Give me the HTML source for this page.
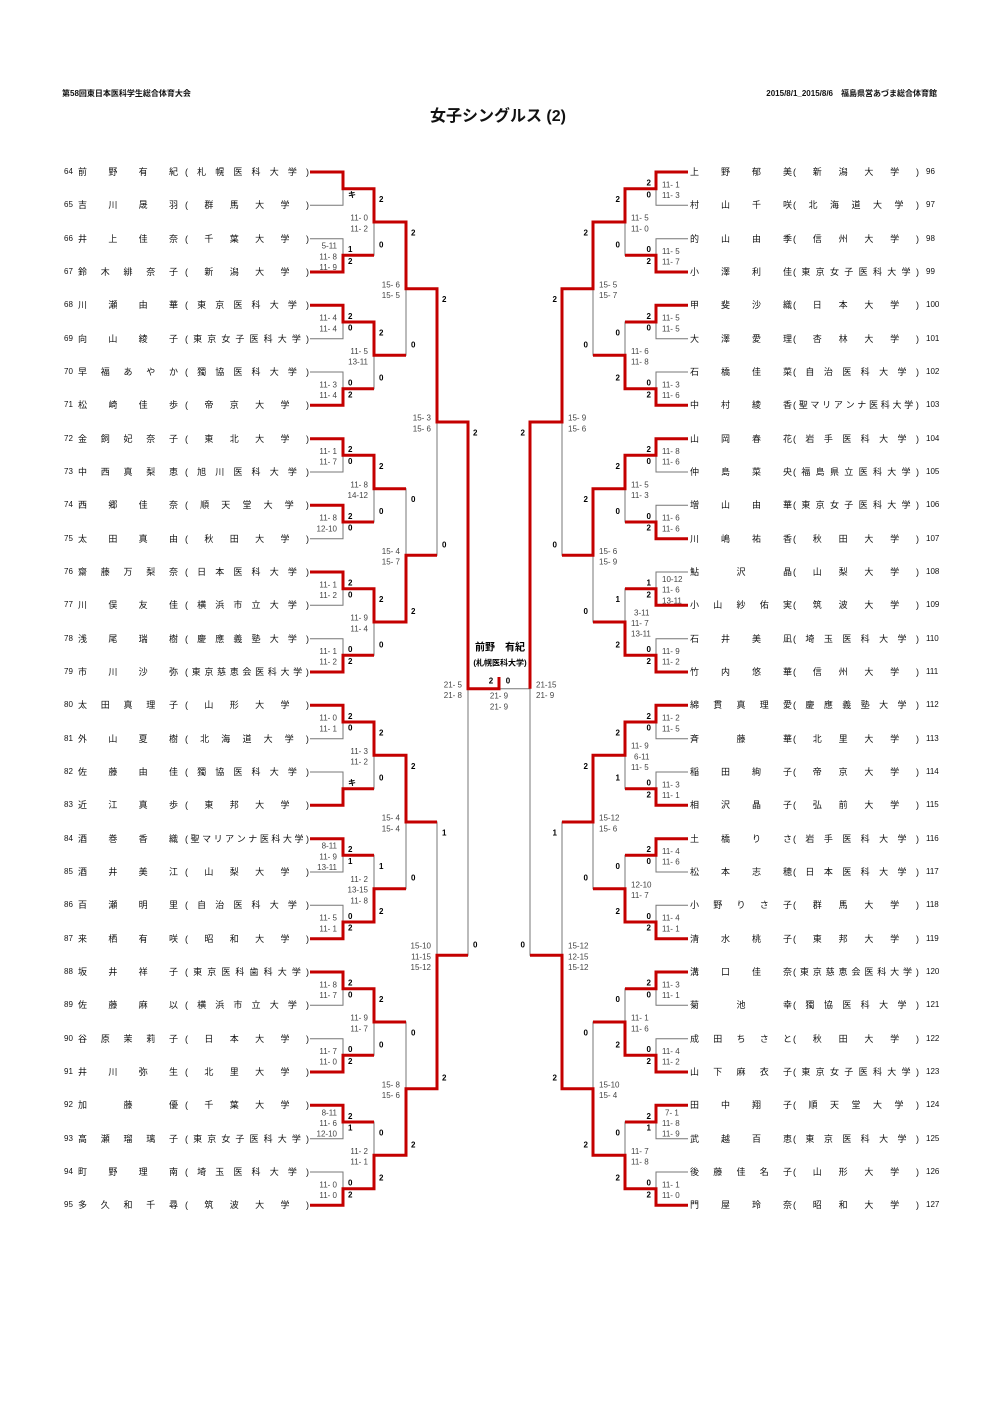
<!DOCTYPE html>
<html><head><meta charset="utf-8">
<style>
html,body{margin:0;padding:0;background:#fff;}
body{width:1000px;height:1415px;position:relative;overflow:hidden;font-family:"Liberation Sans","Noto Sans CJK JP",sans-serif;color:#111;}
svg{position:absolute;left:0;top:0;}
.h{position:absolute;font-size:8px;font-weight:bold;top:88px;white-space:nowrap;}
.t{position:absolute;top:102px;left:0;width:996px;text-align:center;font-size:16px;font-weight:bold;}
.r{position:absolute;left:0;width:1000px;height:12px;font-size:9px;line-height:12px;}
.r b{position:absolute;font-weight:normal;font-size:8px;}
.r p{position:absolute;margin:0;display:flex;justify-content:space-between;top:0;height:12px;}
.r i{font-style:normal;}
.L b{left:64px;}
.L p:nth-of-type(1){left:78px;width:100px;}
.L p:nth-of-type(2){left:185px;width:124px;}
.R p:nth-of-type(1){left:690px;width:102px;}
.R p:nth-of-type(2){left:793px;width:126px;}
.R b{left:926px;}
text{font-family:"Liberation Sans","Noto Sans CJK JP",sans-serif;font-size:8px;dominant-baseline:central;}
.s text{font-weight:bold;fill:#000;}
.d text{fill:#444;}
</style></head><body>
<div class="h" style="left:62px">第58回東日本医科学生総合体育大会</div>
<div class="h" style="right:63px">2015/8/1_2015/8/6　福島県営あづま総合体育館</div>
<div class="t">女子シングルス (2)</div>

<svg width="1000" height="1415" viewBox="0 0 1000 1415">
<g fill="none" stroke="#777" stroke-width="1">
<path d="M310,172H343V205.3H310M310,238.7H343V272H310M310,305.3H343V338.7H310M310,372H343V405.3H310M310,438.7H343V472H310M310,505.3H343V538.7H310M310,572H343V605.3H310M310,638.7H343V672H310M310,705.3H343V738.7H310M310,772H343V805.3H310M310,838.7H343V872H310M310,905.3H343V938.7H310M310,972H343V1005.3H310M310,1038.7H343V1072H310M310,1105.3H343V1138.7H310M310,1172H343V1205.3H310
M343,188.7H374V255.3H343M343,322H374V388.7H343M343,455.3H374V522H343M343,588.7H374V655.3H343M343,722H374V788.7H343M343,855.3H374V922H343M343,988.7H374V1055.3H343M343,1122H374V1188.7H343
M374,222H406V355.3H374M374,488.7H406V622H374M374,755.3H406V888.7H374M374,1022H406V1155.3H374
M406,288.7H437V555.3H406M406,822H437V1088.7H406M437,422H468V955.3H437M468,688.7H530"/>
<path d="M688,172H656V205.3H688M688,238.7H656V272H688M688,305.3H656V338.7H688M688,372H656V405.3H688M688,438.7H656V472H688M688,505.3H656V538.7H688M688,572H656V605.3H688M688,638.7H656V672H688M688,705.3H656V738.7H688M688,772H656V805.3H688M688,838.7H656V872H688M688,905.3H656V938.7H688M688,972H656V1005.3H688M688,1038.7H656V1072H688M688,1105.3H656V1138.7H688M688,1172H656V1205.3H688
M656,188.7H625V255.3H656M656,322H625V388.7H656M656,455.3H625V522H656M656,588.7H625V655.3H656M656,722H625V788.7H656M656,855.3H625V922H656M656,988.7H625V1055.3H656M656,1122H625V1188.7H656
M625,222H593V355.3H625M625,488.7H593V622H625M625,755.3H593V888.7H625M625,1022H593V1155.3H625
M593,288.7H562V555.3H593M593,822H562V1088.7H593M562,422H530V955.3H562"/>
</g>
<g fill="none" stroke="#c40000" stroke-width="3" stroke-linejoin="miter" stroke-linecap="butt">
<polyline points="310,172 343,172 343,188.7 374,188.7 374,222 406,222 406,288.7 437,288.7 437,422 468,422 468,688.7 499,688.7 499,677"/>
<polyline points="310,272 343,272 343,255.3 374,255.3"/>
<polyline points="310,305.3 343,305.3 343,322 374,322 374,355.3 406,355.3"/>
<polyline points="310,405.3 343,405.3 343,388.7 374,388.7"/>
<polyline points="310,438.7 343,438.7 343,455.3 374,455.3 374,488.7 406,488.7"/>
<polyline points="310,505.3 343,505.3 343,522 374,522"/>
<polyline points="310,572 343,572 343,588.7 374,588.7 374,622 406,622 406,555.3 437,555.3"/>
<polyline points="310,672 343,672 343,655.3 374,655.3"/>
<polyline points="310,705.3 343,705.3 343,722 374,722 374,755.3 406,755.3 406,822 437,822"/>
<polyline points="310,805.3 343,805.3 343,788.7 374,788.7"/>
<polyline points="310,838.7 343,838.7 343,855.3 374,855.3"/>
<polyline points="310,938.7 343,938.7 343,922 374,922 374,888.7 406,888.7"/>
<polyline points="310,972 343,972 343,988.7 374,988.7 374,1022 406,1022"/>
<polyline points="310,1072 343,1072 343,1055.3 374,1055.3"/>
<polyline points="310,1105.3 343,1105.3 343,1122 374,1122"/>
<polyline points="310,1205.3 343,1205.3 343,1188.7 374,1188.7 374,1155.3 406,1155.3 406,1088.7 437,1088.7 437,955.3 468,955.3"/>

<polyline points="688,172 656,172 656,188.7 625,188.7 625,222 593,222 593,288.7 562,288.7 562,422 530,422 530,688.7"/>
<polyline points="688,272 656,272 656,255.3 625,255.3"/>
<polyline points="688,305.3 656,305.3 656,322 625,322"/>
<polyline points="688,405.3 656,405.3 656,388.7 625,388.7 625,355.3 593,355.3"/>
<polyline points="688,438.7 656,438.7 656,455.3 625,455.3 625,488.7 593,488.7 593,555.3 562,555.3"/>
<polyline points="688,538.7 656,538.7 656,522 625,522"/>
<polyline points="688,605.3 656,605.3 656,588.7 625,588.7"/>
<polyline points="688,672 656,672 656,655.3 625,655.3 625,622 593,622"/>
<polyline points="688,705.3 656,705.3 656,722 625,722 625,755.3 593,755.3 593,822 562,822"/>
<polyline points="688,805.3 656,805.3 656,788.7 625,788.7"/>
<polyline points="688,838.7 656,838.7 656,855.3 625,855.3"/>
<polyline points="688,938.7 656,938.7 656,922 625,922 625,888.7 593,888.7"/>
<polyline points="688,972 656,972 656,988.7 625,988.7"/>
<polyline points="688,1072 656,1072 656,1055.3 625,1055.3 625,1022 593,1022"/>
<polyline points="688,1105.3 656,1105.3 656,1122 625,1122"/>
<polyline points="688,1205.3 656,1205.3 656,1188.7 625,1188.7 625,1155.3 593,1155.3 593,1088.7 562,1088.7 562,955.3 530,955.3"/>
</g>

<!-- LEFT scores -->
<g class="s">
<text x="348" y="194.8">キ</text>
<text x="348" y="249.7">1</text><text x="348" y="261.5">2</text>
<text x="348" y="316.3">2</text><text x="348" y="328.2">0</text>
<text x="348" y="383">0</text><text x="348" y="394.8">2</text>
<text x="348" y="449.7">2</text><text x="348" y="461.5">0</text>
<text x="348" y="516.3">2</text><text x="348" y="528.2">0</text>
<text x="348" y="583">2</text><text x="348" y="594.8">0</text>
<text x="348" y="649.7">0</text><text x="348" y="661.5">2</text>
<text x="348" y="716.3">2</text><text x="348" y="728.2">0</text>
<text x="348" y="783">キ</text>
<text x="348" y="849.7">2</text><text x="348" y="861.5">1</text>
<text x="348" y="916.3">0</text><text x="348" y="928.2">2</text>
<text x="348" y="983">2</text><text x="348" y="994.8">0</text>
<text x="348" y="1049.7">0</text><text x="348" y="1061.5">2</text>
<text x="348" y="1116.3">2</text><text x="348" y="1128.2">1</text>
<text x="348" y="1183">0</text><text x="348" y="1194.8">2</text>

<text x="379" y="199.7">2</text><text x="379" y="244.8">0</text>
<text x="379" y="333">2</text><text x="379" y="378.2">0</text>
<text x="379" y="466.3">2</text><text x="379" y="511.5">0</text>
<text x="379" y="599.7">2</text><text x="379" y="644.8">0</text>
<text x="379" y="733">2</text><text x="379" y="778.2">0</text>
<text x="379" y="866.3">1</text><text x="379" y="911.5">2</text>
<text x="379" y="999.7">2</text><text x="379" y="1044.8">0</text>
<text x="379" y="1133">0</text><text x="379" y="1178.2">2</text>

<text x="411" y="233">2</text><text x="411" y="344.8">0</text>
<text x="411" y="499.7">0</text><text x="411" y="611.5">2</text>
<text x="411" y="766.3">2</text><text x="411" y="878.2">0</text>
<text x="411" y="1033">0</text><text x="411" y="1144.8">2</text>

<text x="442" y="299.7">2</text><text x="442" y="544.8">0</text>
<text x="442" y="833">1</text><text x="442" y="1078.2">2</text>

<text x="473" y="433">2</text><text x="473" y="944.8">0</text>

<text x="491" y="681" text-anchor="middle">2</text><text x="508" y="681" text-anchor="middle">0</text>

<!-- RIGHT scores -->
<g text-anchor="end">
<text x="651" y="183">2</text><text x="651" y="194.8">0</text>
<text x="651" y="249.7">0</text><text x="651" y="261.5">2</text>
<text x="651" y="316.3">2</text><text x="651" y="328.2">0</text>
<text x="651" y="383">0</text><text x="651" y="394.8">2</text>
<text x="651" y="449.7">2</text><text x="651" y="461.5">0</text>
<text x="651" y="516.3">0</text><text x="651" y="528.2">2</text>
<text x="651" y="583">1</text><text x="651" y="594.8">2</text>
<text x="651" y="649.7">0</text><text x="651" y="661.5">2</text>
<text x="651" y="716.3">2</text><text x="651" y="728.2">0</text>
<text x="651" y="783">0</text><text x="651" y="794.8">2</text>
<text x="651" y="849.7">2</text><text x="651" y="861.5">0</text>
<text x="651" y="916.3">0</text><text x="651" y="928.2">2</text>
<text x="651" y="983">2</text><text x="651" y="994.8">0</text>
<text x="651" y="1049.7">0</text><text x="651" y="1061.5">2</text>
<text x="651" y="1116.3">2</text><text x="651" y="1128.2">1</text>
<text x="651" y="1183">0</text><text x="651" y="1194.8">2</text>

<text x="620" y="199.7">2</text><text x="620" y="244.8">0</text>
<text x="620" y="333">0</text><text x="620" y="378.2">2</text>
<text x="620" y="466.3">2</text><text x="620" y="511.5">0</text>
<text x="620" y="599.7">1</text><text x="620" y="644.8">2</text>
<text x="620" y="733">2</text><text x="620" y="778.2">1</text>
<text x="620" y="866.3">0</text><text x="620" y="911.5">2</text>
<text x="620" y="999.7">0</text><text x="620" y="1044.8">2</text>
<text x="620" y="1133">0</text><text x="620" y="1178.2">2</text>

<text x="588" y="233">2</text><text x="588" y="344.8">0</text>
<text x="588" y="499.7">2</text><text x="588" y="611.5">0</text>
<text x="588" y="766.3">2</text><text x="588" y="878.2">0</text>
<text x="588" y="1033">0</text><text x="588" y="1144.8">2</text>

<text x="557" y="299.7">2</text><text x="557" y="544.8">0</text>
<text x="557" y="833">1</text><text x="557" y="1078.2">2</text>

<text x="525" y="433">2</text><text x="525" y="944.8">0</text>
</g>
</g>

<!-- details -->
<g class="d" text-anchor="end">
<text x="337" y="246.1">5-11</text><text x="337" y="256.8">11- 8</text><text x="337" y="267.5">11- 9</text>
<text x="337" y="318.2">11- 4</text><text x="337" y="328.8">11- 4</text>
<text x="337" y="384.8">11- 3</text><text x="337" y="395.5">11- 4</text>
<text x="337" y="451.5">11- 1</text><text x="337" y="462.2">11- 7</text>
<text x="337" y="518.2">11- 8</text><text x="337" y="528.8">12-10</text>
<text x="337" y="584.8">11- 1</text><text x="337" y="595.5">11- 2</text>
<text x="337" y="651.5">11- 1</text><text x="337" y="662.2">11- 2</text>
<text x="337" y="718.2">11- 0</text><text x="337" y="728.8">11- 1</text>
<text x="337" y="846.1">8-11</text><text x="337" y="856.8">11- 9</text><text x="337" y="867.5">13-11</text>
<text x="337" y="918.2">11- 5</text><text x="337" y="928.8">11- 1</text>
<text x="337" y="984.8">11- 8</text><text x="337" y="995.5">11- 7</text>
<text x="337" y="1051.5">11- 7</text><text x="337" y="1062.2">11- 0</text>
<text x="337" y="1112.8">8-11</text><text x="337" y="1123.5">11- 6</text><text x="337" y="1134.2">12-10</text>
<text x="337" y="1184.8">11- 0</text><text x="337" y="1195.5">11- 0</text>

<text x="368" y="218.2">11- 0</text><text x="368" y="228.8">11- 2</text>
<text x="368" y="351.5">11- 5</text><text x="368" y="362.2">13-11</text>
<text x="368" y="484.8">11- 8</text><text x="368" y="495.5">14-12</text>
<text x="368" y="618.2">11- 9</text><text x="368" y="628.8">11- 4</text>
<text x="368" y="751.5">11- 3</text><text x="368" y="762.2">11- 2</text>
<text x="368" y="879.5">11- 2</text><text x="368" y="890.2">13-15</text><text x="368" y="900.9">11- 8</text>
<text x="368" y="1018.2">11- 9</text><text x="368" y="1028.8">11- 7</text>
<text x="368" y="1151.5">11- 2</text><text x="368" y="1162.2">11- 1</text>

<text x="400" y="284.8">15- 6</text><text x="400" y="295.5">15- 5</text>
<text x="400" y="551.5">15- 4</text><text x="400" y="562.2">15- 7</text>
<text x="400" y="818.2">15- 4</text><text x="400" y="828.8">15- 4</text>
<text x="400" y="1084.8">15- 8</text><text x="400" y="1095.5">15- 6</text>

<text x="431" y="418.2">15- 3</text><text x="431" y="428.8">15- 6</text>
<text x="431" y="946.1">15-10</text><text x="431" y="956.8">11-15</text><text x="431" y="967.5">15-12</text>

<text x="462" y="684.9">21- 5</text><text x="462" y="695.5">21- 8</text>
</g>
<g class="d" text-anchor="middle">
<text x="499" y="696">21- 9</text><text x="499" y="707">21- 9</text>
</g>
<g class="d">
<text x="662" y="184.8">11- 1</text><text x="662" y="195.5">11- 3</text>
<text x="662" y="251.5">11- 5</text><text x="662" y="262.2">11- 7</text>
<text x="662" y="318.2">11- 5</text><text x="662" y="328.8">11- 5</text>
<text x="662" y="384.8">11- 3</text><text x="662" y="395.5">11- 6</text>
<text x="662" y="451.5">11- 8</text><text x="662" y="462.2">11- 6</text>
<text x="662" y="518.2">11- 6</text><text x="662" y="528.8">11- 6</text>
<text x="662" y="579.5">10-12</text><text x="662" y="590.2">11- 6</text><text x="662" y="600.9">13-11</text>
<text x="662" y="651.5">11- 9</text><text x="662" y="662.2">11- 2</text>
<text x="662" y="718.2">11- 2</text><text x="662" y="728.8">11- 5</text>
<text x="662" y="784.8">11- 3</text><text x="662" y="795.5">11- 1</text>
<text x="662" y="851.5">11- 4</text><text x="662" y="862.2">11- 6</text>
<text x="662" y="918.2">11- 4</text><text x="662" y="928.8">11- 1</text>
<text x="662" y="984.8">11- 3</text><text x="662" y="995.5">11- 1</text>
<text x="662" y="1051.5">11- 4</text><text x="662" y="1062.2">11- 2</text>
<text x="665" y="1112.8">7- 1</text><text x="662" y="1123.5">11- 8</text><text x="662" y="1134.2">11- 9</text>
<text x="662" y="1184.8">11- 1</text><text x="662" y="1195.5">11- 0</text>

<text x="631" y="218.2">11- 5</text><text x="631" y="228.8">11- 0</text>
<text x="631" y="351.5">11- 6</text><text x="631" y="362.2">11- 8</text>
<text x="631" y="484.8">11- 5</text><text x="631" y="495.5">11- 3</text>
<text x="634" y="612.8">3-11</text><text x="631" y="623.5">11- 7</text><text x="631" y="634.2">13-11</text>
<text x="631" y="746.1">11- 9</text><text x="634" y="756.8">6-11</text><text x="631" y="767.5">11- 5</text>
<text x="631" y="884.8">12-10</text><text x="631" y="895.5">11- 7</text>
<text x="631" y="1018.2">11- 1</text><text x="631" y="1028.8">11- 6</text>
<text x="631" y="1151.5">11- 7</text><text x="631" y="1162.2">11- 8</text>

<text x="599" y="284.8">15- 5</text><text x="599" y="295.5">15- 7</text>
<text x="599" y="551.5">15- 6</text><text x="599" y="562.2">15- 9</text>
<text x="599" y="818.2">15-12</text><text x="599" y="828.8">15- 6</text>
<text x="599" y="1084.8">15-10</text><text x="599" y="1095.5">15- 4</text>

<text x="568" y="418.2">15- 9</text><text x="568" y="428.8">15- 6</text>
<text x="568" y="946.1">15-12</text><text x="568" y="956.8">12-15</text><text x="568" y="967.5">15-12</text>

<text x="536" y="684.9">21-15</text><text x="536" y="695.5">21- 9</text>
</g>
<text x="500" y="648" text-anchor="middle" style="font-size:10px;font-weight:bold">前野　有紀</text>
<text x="500" y="663" text-anchor="middle" style="font-size:8px;font-weight:bold">(札幌医科大学)</text>
</svg>

<!-- LEFT rows -->
<div class="r L" style="top:166px"><b>64</b><p><i>前</i><i>野</i><i>有</i><i>紀</i></p><p><i>(</i><i>札</i><i>幌</i><i>医</i><i>科</i><i>大</i><i>学</i><i>)</i></p></div>
<div class="r L" style="top:199.3px"><b>65</b><p><i>吉</i><i>川</i><i>晟</i><i>羽</i></p><p><i>(</i><i>群</i><i>馬</i><i>大</i><i>学</i><i>)</i></p></div>
<div class="r L" style="top:232.7px"><b>66</b><p><i>井</i><i>上</i><i>佳</i><i>奈</i></p><p><i>(</i><i>千</i><i>葉</i><i>大</i><i>学</i><i>)</i></p></div>
<div class="r L" style="top:266px"><b>67</b><p><i>鈴</i><i>木</i><i>緋</i><i>奈</i><i>子</i></p><p><i>(</i><i>新</i><i>潟</i><i>大</i><i>学</i><i>)</i></p></div>
<div class="r L" style="top:299.3px"><b>68</b><p><i>川</i><i>瀬</i><i>由</i><i>華</i></p><p><i>(</i><i>東</i><i>京</i><i>医</i><i>科</i><i>大</i><i>学</i><i>)</i></p></div>
<div class="r L" style="top:332.7px"><b>69</b><p><i>向</i><i>山</i><i>綾</i><i>子</i></p><p><i>(</i><i>東</i><i>京</i><i>女</i><i>子</i><i>医</i><i>科</i><i>大</i><i>学</i><i>)</i></p></div>
<div class="r L" style="top:366px"><b>70</b><p><i>早</i><i>福</i><i>あ</i><i>や</i><i>か</i></p><p><i>(</i><i>獨</i><i>協</i><i>医</i><i>科</i><i>大</i><i>学</i><i>)</i></p></div>
<div class="r L" style="top:399.3px"><b>71</b><p><i>松</i><i>崎</i><i>佳</i><i>歩</i></p><p><i>(</i><i>帝</i><i>京</i><i>大</i><i>学</i><i>)</i></p></div>
<div class="r L" style="top:432.7px"><b>72</b><p><i>金</i><i>飼</i><i>妃</i><i>奈</i><i>子</i></p><p><i>(</i><i>東</i><i>北</i><i>大</i><i>学</i><i>)</i></p></div>
<div class="r L" style="top:466px"><b>73</b><p><i>中</i><i>西</i><i>真</i><i>梨</i><i>恵</i></p><p><i>(</i><i>旭</i><i>川</i><i>医</i><i>科</i><i>大</i><i>学</i><i>)</i></p></div>
<div class="r L" style="top:499.3px"><b>74</b><p><i>西</i><i>郷</i><i>佳</i><i>奈</i></p><p><i>(</i><i>順</i><i>天</i><i>堂</i><i>大</i><i>学</i><i>)</i></p></div>
<div class="r L" style="top:532.7px"><b>75</b><p><i>太</i><i>田</i><i>真</i><i>由</i></p><p><i>(</i><i>秋</i><i>田</i><i>大</i><i>学</i><i>)</i></p></div>
<div class="r L" style="top:566px"><b>76</b><p><i>齋</i><i>藤</i><i>万</i><i>梨</i><i>奈</i></p><p><i>(</i><i>日</i><i>本</i><i>医</i><i>科</i><i>大</i><i>学</i><i>)</i></p></div>
<div class="r L" style="top:599.3px"><b>77</b><p><i>川</i><i>俣</i><i>友</i><i>佳</i></p><p><i>(</i><i>横</i><i>浜</i><i>市</i><i>立</i><i>大</i><i>学</i><i>)</i></p></div>
<div class="r L" style="top:632.7px"><b>78</b><p><i>浅</i><i>尾</i><i>瑞</i><i>樹</i></p><p><i>(</i><i>慶</i><i>應</i><i>義</i><i>塾</i><i>大</i><i>学</i><i>)</i></p></div>
<div class="r L" style="top:666px"><b>79</b><p><i>市</i><i>川</i><i>沙</i><i>弥</i></p><p><i>(</i><i>東</i><i>京</i><i>慈</i><i>恵</i><i>会</i><i>医</i><i>科</i><i>大</i><i>学</i><i>)</i></p></div>
<div class="r L" style="top:699.3px"><b>80</b><p><i>太</i><i>田</i><i>真</i><i>理</i><i>子</i></p><p><i>(</i><i>山</i><i>形</i><i>大</i><i>学</i><i>)</i></p></div>
<div class="r L" style="top:732.7px"><b>81</b><p><i>外</i><i>山</i><i>夏</i><i>樹</i></p><p><i>(</i><i>北</i><i>海</i><i>道</i><i>大</i><i>学</i><i>)</i></p></div>
<div class="r L" style="top:766px"><b>82</b><p><i>佐</i><i>藤</i><i>由</i><i>佳</i></p><p><i>(</i><i>獨</i><i>協</i><i>医</i><i>科</i><i>大</i><i>学</i><i>)</i></p></div>
<div class="r L" style="top:799.3px"><b>83</b><p><i>近</i><i>江</i><i>真</i><i>歩</i></p><p><i>(</i><i>東</i><i>邦</i><i>大</i><i>学</i><i>)</i></p></div>
<div class="r L" style="top:832.7px"><b>84</b><p><i>酒</i><i>巻</i><i>香</i><i>織</i></p><p><i>(</i><i>聖</i><i>マ</i><i>リ</i><i>ア</i><i>ン</i><i>ナ</i><i>医</i><i>科</i><i>大</i><i>学</i><i>)</i></p></div>
<div class="r L" style="top:866px"><b>85</b><p><i>酒</i><i>井</i><i>美</i><i>江</i></p><p><i>(</i><i>山</i><i>梨</i><i>大</i><i>学</i><i>)</i></p></div>
<div class="r L" style="top:899.3px"><b>86</b><p><i>百</i><i>瀬</i><i>明</i><i>里</i></p><p><i>(</i><i>自</i><i>治</i><i>医</i><i>科</i><i>大</i><i>学</i><i>)</i></p></div>
<div class="r L" style="top:932.7px"><b>87</b><p><i>来</i><i>栖</i><i>有</i><i>咲</i></p><p><i>(</i><i>昭</i><i>和</i><i>大</i><i>学</i><i>)</i></p></div>
<div class="r L" style="top:966px"><b>88</b><p><i>坂</i><i>井</i><i>祥</i><i>子</i></p><p><i>(</i><i>東</i><i>京</i><i>医</i><i>科</i><i>歯</i><i>科</i><i>大</i><i>学</i><i>)</i></p></div>
<div class="r L" style="top:999.3px"><b>89</b><p><i>佐</i><i>藤</i><i>麻</i><i>以</i></p><p><i>(</i><i>横</i><i>浜</i><i>市</i><i>立</i><i>大</i><i>学</i><i>)</i></p></div>
<div class="r L" style="top:1032.7px"><b>90</b><p><i>谷</i><i>原</i><i>茉</i><i>莉</i><i>子</i></p><p><i>(</i><i>日</i><i>本</i><i>大</i><i>学</i><i>)</i></p></div>
<div class="r L" style="top:1066px"><b>91</b><p><i>井</i><i>川</i><i>弥</i><i>生</i></p><p><i>(</i><i>北</i><i>里</i><i>大</i><i>学</i><i>)</i></p></div>
<div class="r L" style="top:1099.3px"><b>92</b><p><i>加</i><i>藤</i><i>優</i></p><p><i>(</i><i>千</i><i>葉</i><i>大</i><i>学</i><i>)</i></p></div>
<div class="r L" style="top:1132.7px"><b>93</b><p><i>高</i><i>瀬</i><i>瑠</i><i>璃</i><i>子</i></p><p><i>(</i><i>東</i><i>京</i><i>女</i><i>子</i><i>医</i><i>科</i><i>大</i><i>学</i><i>)</i></p></div>
<div class="r L" style="top:1166px"><b>94</b><p><i>町</i><i>野</i><i>理</i><i>南</i></p><p><i>(</i><i>埼</i><i>玉</i><i>医</i><i>科</i><i>大</i><i>学</i><i>)</i></p></div>
<div class="r L" style="top:1199.3px"><b>95</b><p><i>多</i><i>久</i><i>和</i><i>千</i><i>尋</i></p><p><i>(</i><i>筑</i><i>波</i><i>大</i><i>学</i><i>)</i></p></div>

<!-- RIGHT rows -->
<div class="r R" style="top:166px"><p><i>上</i><i>野</i><i>郁</i><i>美</i></p><p><i>(</i><i>新</i><i>潟</i><i>大</i><i>学</i><i>)</i></p><b>96</b></div>
<div class="r R" style="top:199.3px"><p><i>村</i><i>山</i><i>千</i><i>咲</i></p><p><i>(</i><i>北</i><i>海</i><i>道</i><i>大</i><i>学</i><i>)</i></p><b>97</b></div>
<div class="r R" style="top:232.7px"><p><i>的</i><i>山</i><i>由</i><i>季</i></p><p><i>(</i><i>信</i><i>州</i><i>大</i><i>学</i><i>)</i></p><b>98</b></div>
<div class="r R" style="top:266px"><p><i>小</i><i>澤</i><i>利</i><i>佳</i></p><p><i>(</i><i>東</i><i>京</i><i>女</i><i>子</i><i>医</i><i>科</i><i>大</i><i>学</i><i>)</i></p><b>99</b></div>
<div class="r R" style="top:299.3px"><p><i>甲</i><i>斐</i><i>沙</i><i>織</i></p><p><i>(</i><i>日</i><i>本</i><i>大</i><i>学</i><i>)</i></p><b>100</b></div>
<div class="r R" style="top:332.7px"><p><i>大</i><i>澤</i><i>愛</i><i>理</i></p><p><i>(</i><i>杏</i><i>林</i><i>大</i><i>学</i><i>)</i></p><b>101</b></div>
<div class="r R" style="top:366px"><p><i>石</i><i>橋</i><i>佳</i><i>菜</i></p><p><i>(</i><i>自</i><i>治</i><i>医</i><i>科</i><i>大</i><i>学</i><i>)</i></p><b>102</b></div>
<div class="r R" style="top:399.3px"><p><i>中</i><i>村</i><i>綾</i><i>香</i></p><p><i>(</i><i>聖</i><i>マ</i><i>リ</i><i>ア</i><i>ン</i><i>ナ</i><i>医</i><i>科</i><i>大</i><i>学</i><i>)</i></p><b>103</b></div>
<div class="r R" style="top:432.7px"><p><i>山</i><i>岡</i><i>春</i><i>花</i></p><p><i>(</i><i>岩</i><i>手</i><i>医</i><i>科</i><i>大</i><i>学</i><i>)</i></p><b>104</b></div>
<div class="r R" style="top:466px"><p><i>仲</i><i>島</i><i>菜</i><i>央</i></p><p><i>(</i><i>福</i><i>島</i><i>県</i><i>立</i><i>医</i><i>科</i><i>大</i><i>学</i><i>)</i></p><b>105</b></div>
<div class="r R" style="top:499.3px"><p><i>増</i><i>山</i><i>由</i><i>華</i></p><p><i>(</i><i>東</i><i>京</i><i>女</i><i>子</i><i>医</i><i>科</i><i>大</i><i>学</i><i>)</i></p><b>106</b></div>
<div class="r R" style="top:532.7px"><p><i>川</i><i>嶋</i><i>祐</i><i>香</i></p><p><i>(</i><i>秋</i><i>田</i><i>大</i><i>学</i><i>)</i></p><b>107</b></div>
<div class="r R" style="top:566px"><p><i>鮎</i><i>沢</i><i>晶</i></p><p><i>(</i><i>山</i><i>梨</i><i>大</i><i>学</i><i>)</i></p><b>108</b></div>
<div class="r R" style="top:599.3px"><p><i>小</i><i>山</i><i>紗</i><i>佑</i><i>実</i></p><p><i>(</i><i>筑</i><i>波</i><i>大</i><i>学</i><i>)</i></p><b>109</b></div>
<div class="r R" style="top:632.7px"><p><i>石</i><i>井</i><i>美</i><i>凪</i></p><p><i>(</i><i>埼</i><i>玉</i><i>医</i><i>科</i><i>大</i><i>学</i><i>)</i></p><b>110</b></div>
<div class="r R" style="top:666px"><p><i>竹</i><i>内</i><i>悠</i><i>華</i></p><p><i>(</i><i>信</i><i>州</i><i>大</i><i>学</i><i>)</i></p><b>111</b></div>
<div class="r R" style="top:699.3px"><p><i>綿</i><i>貫</i><i>真</i><i>理</i><i>愛</i></p><p><i>(</i><i>慶</i><i>應</i><i>義</i><i>塾</i><i>大</i><i>学</i><i>)</i></p><b>112</b></div>
<div class="r R" style="top:732.7px"><p><i>斉</i><i>藤</i><i>華</i></p><p><i>(</i><i>北</i><i>里</i><i>大</i><i>学</i><i>)</i></p><b>113</b></div>
<div class="r R" style="top:766px"><p><i>稲</i><i>田</i><i>絢</i><i>子</i></p><p><i>(</i><i>帝</i><i>京</i><i>大</i><i>学</i><i>)</i></p><b>114</b></div>
<div class="r R" style="top:799.3px"><p><i>相</i><i>沢</i><i>晶</i><i>子</i></p><p><i>(</i><i>弘</i><i>前</i><i>大</i><i>学</i><i>)</i></p><b>115</b></div>
<div class="r R" style="top:832.7px"><p><i>土</i><i>橋</i><i>り</i><i>さ</i></p><p><i>(</i><i>岩</i><i>手</i><i>医</i><i>科</i><i>大</i><i>学</i><i>)</i></p><b>116</b></div>
<div class="r R" style="top:866px"><p><i>松</i><i>本</i><i>志</i><i>穂</i></p><p><i>(</i><i>日</i><i>本</i><i>医</i><i>科</i><i>大</i><i>学</i><i>)</i></p><b>117</b></div>
<div class="r R" style="top:899.3px"><p><i>小</i><i>野</i><i>り</i><i>さ</i><i>子</i></p><p><i>(</i><i>群</i><i>馬</i><i>大</i><i>学</i><i>)</i></p><b>118</b></div>
<div class="r R" style="top:932.7px"><p><i>清</i><i>水</i><i>桃</i><i>子</i></p><p><i>(</i><i>東</i><i>邦</i><i>大</i><i>学</i><i>)</i></p><b>119</b></div>
<div class="r R" style="top:966px"><p><i>溝</i><i>口</i><i>佳</i><i>奈</i></p><p><i>(</i><i>東</i><i>京</i><i>慈</i><i>恵</i><i>会</i><i>医</i><i>科</i><i>大</i><i>学</i><i>)</i></p><b>120</b></div>
<div class="r R" style="top:999.3px"><p><i>菊</i><i>池</i><i>幸</i></p><p><i>(</i><i>獨</i><i>協</i><i>医</i><i>科</i><i>大</i><i>学</i><i>)</i></p><b>121</b></div>
<div class="r R" style="top:1032.7px"><p><i>成</i><i>田</i><i>ち</i><i>さ</i><i>と</i></p><p><i>(</i><i>秋</i><i>田</i><i>大</i><i>学</i><i>)</i></p><b>122</b></div>
<div class="r R" style="top:1066px"><p><i>山</i><i>下</i><i>麻</i><i>衣</i><i>子</i></p><p><i>(</i><i>東</i><i>京</i><i>女</i><i>子</i><i>医</i><i>科</i><i>大</i><i>学</i><i>)</i></p><b>123</b></div>
<div class="r R" style="top:1099.3px"><p><i>田</i><i>中</i><i>翔</i><i>子</i></p><p><i>(</i><i>順</i><i>天</i><i>堂</i><i>大</i><i>学</i><i>)</i></p><b>124</b></div>
<div class="r R" style="top:1132.7px"><p><i>武</i><i>越</i><i>百</i><i>恵</i></p><p><i>(</i><i>東</i><i>京</i><i>医</i><i>科</i><i>大</i><i>学</i><i>)</i></p><b>125</b></div>
<div class="r R" style="top:1166px"><p><i>後</i><i>藤</i><i>佳</i><i>名</i><i>子</i></p><p><i>(</i><i>山</i><i>形</i><i>大</i><i>学</i><i>)</i></p><b>126</b></div>
<div class="r R" style="top:1199.3px"><p><i>門</i><i>屋</i><i>玲</i><i>奈</i></p><p><i>(</i><i>昭</i><i>和</i><i>大</i><i>学</i><i>)</i></p><b>127</b></div>
</body></html>
